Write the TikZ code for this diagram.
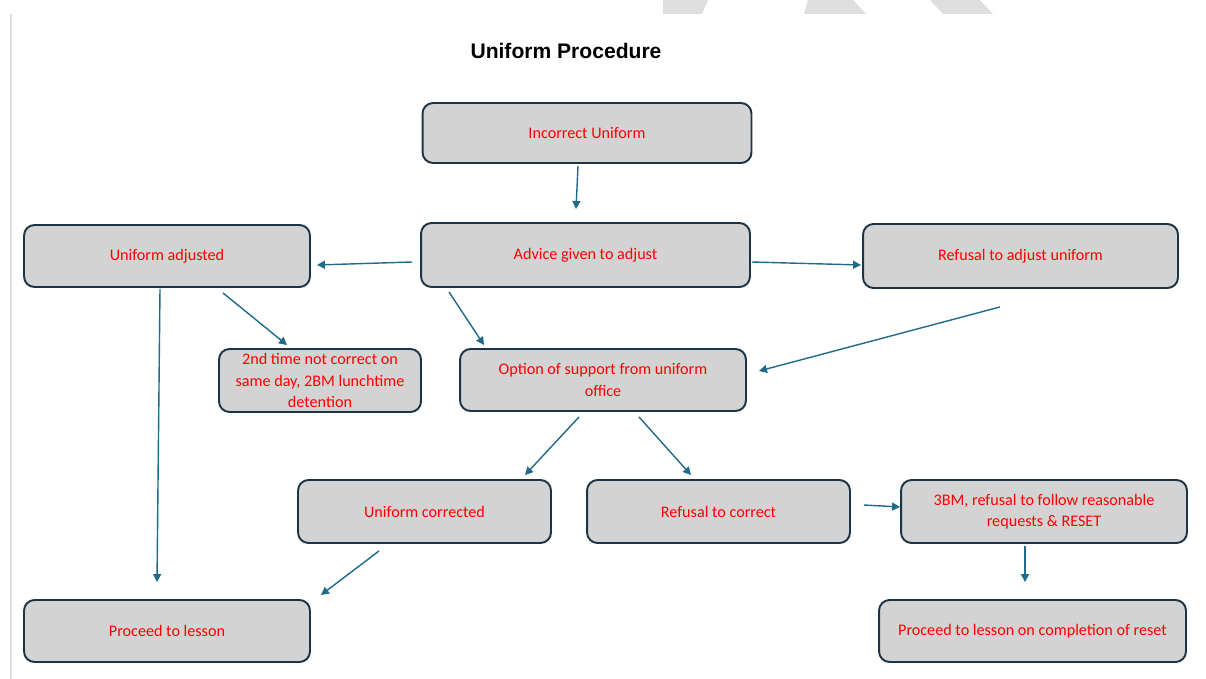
\documentclass[tikz,border=0pt]{standalone}
\usepackage{fontspec}
\setmainfont{Carlito}
\newfontfamily\titlefont{Liberation Sans}
\usepackage{xcolor}
\usetikzlibrary{arrows.meta}
\definecolor{boxgrey}{HTML}{D3D3D3}
\definecolor{boxline}{HTML}{1E3444}
\definecolor{flowline}{HTML}{206A8A}
\definecolor{marktext}{HTML}{FF0000}
\definecolor{wmgrey}{HTML}{DEDEDE}
\tikzset{
  ubox/.style={draw=boxline,fill=boxgrey,line width=1.1pt,rounded corners=6pt,align=center,inner sep=0pt,text=marktext,font=\fontsize{9.2}{12}\selectfont},
  uarr/.style={-{Triangle[length=1.6mm,width=1.6mm]},line width=0.8pt,draw=flowline}
}

\begin{document}
\begin{tikzpicture}[x=0.02cm,y=-0.02cm]
  \useasboundingbox[fill=white] (0,0) rectangle (1206,679);
  % page edge and watermark pieces
  \draw[wmgrey,line width=1pt] (11,14) -- (11,679);
  \fill[wmgrey] (663,0) -- (708,0) -- (702,14) -- (663,14) -- cycle;
  \fill[wmgrey] (808,0) -- (853,0) -- (866,14) -- (804,14) -- cycle;
  \fill[wmgrey] (930,0) -- (980,0) -- (993,14) -- (943,14) -- cycle;

  \node[font=\titlefont\bfseries\fontsize{12}{14}\selectfont] (title) at (566,51) {Uniform Procedure};

  % boxes
  \node[ubox,minimum width=6.58cm,minimum height=1.2cm] (incorrect) at (587,133) {Incorrect Uniform};
  \node[ubox,minimum width=6.58cm,minimum height=1.28cm] (advice) at (585.5,255) {Advice given to adjust};
  \node[ubox,minimum width=5.72cm,minimum height=1.24cm] (adjusted) at (167,256) {Uniform adjusted};
  \node[ubox,minimum width=6.3cm,minimum height=1.28cm] (refadjust) at (1020.5,256) {Refusal to adjust uniform};
  \node[ubox,minimum width=4.04cm,minimum height=1.26cm] (second) at (320,380.5) {2nd time not correct on\\same day, 2BM lunchtime\\detention};
  \node[ubox,minimum width=5.72cm,minimum height=1.24cm] (option) at (603,380) {Option of support from uniform\\office};
  \node[ubox,minimum width=5.06cm,minimum height=1.26cm] (corrected) at (424.5,511.5) {Uniform corrected};
  \node[ubox,minimum width=5.26cm,minimum height=1.26cm] (refcorrect) at (718.5,511.5) {Refusal to correct};
  \node[ubox,minimum width=5.72cm,minimum height=1.26cm] (threebm) at (1044,511.5) {3BM, refusal to follow reasonable\\requests \& RESET};
  \node[ubox,minimum width=5.72cm,minimum height=1.24cm] (lesson) at (167,631) {Proceed to lesson};
  \node[ubox,minimum width=6.14cm,minimum height=1.24cm] (reset) at (1032.5,631) {Proceed to lesson on completion of reset};

  % connectors
  \draw[uarr] ([shift={(-9,2)}]incorrect.south) -- ([shift={(-9.5,-13)}]advice.north);
  \draw[uarr] ([shift={(-8,7)}]advice.west) -- ([shift={(6,9)}]adjusted.east);
  \draw[uarr] ([shift={(1,7)}]advice.east) -- ([shift={(-1,9)}]refadjust.west);
  \draw[uarr] ([shift={(56,5)}]adjusted.south) -- ([shift={(-33,-3)}]second.north);
  \draw[uarr] ([shift={(-136.5,4)}]advice.south) -- ([shift={(-119,-3)}]option.north);
  \draw[uarr] ([shift={(-20.5,18)}]refadjust.south) -- ([shift={(12,-9)}]option.east);
  \draw[uarr] ([shift={(-7,1)}]adjusted.south) -- ([shift={(-10,-17)}]lesson.north);
  \draw[uarr] ([shift={(-24,5)}]option.south) -- ([shift={(100.5,-4)}]corrected.north);
  \draw[uarr] ([shift={(36,5)}]option.south) -- ([shift={(-27.5,-4)}]refcorrect.north);
  \draw[uarr] ([shift={(13,-6.5)}]refcorrect.east) -- ([shift={(0,-4.5)}]threebm.west);
  \draw[uarr] ([shift={(-45.5,7)}]corrected.south) -- ([shift={(10,-36)}]lesson.east);
  \draw[uarr] ([shift={(-19,2)}]threebm.south) -- ([shift={(-7.5,-17)}]reset.north);
\end{tikzpicture}
\end{document}
